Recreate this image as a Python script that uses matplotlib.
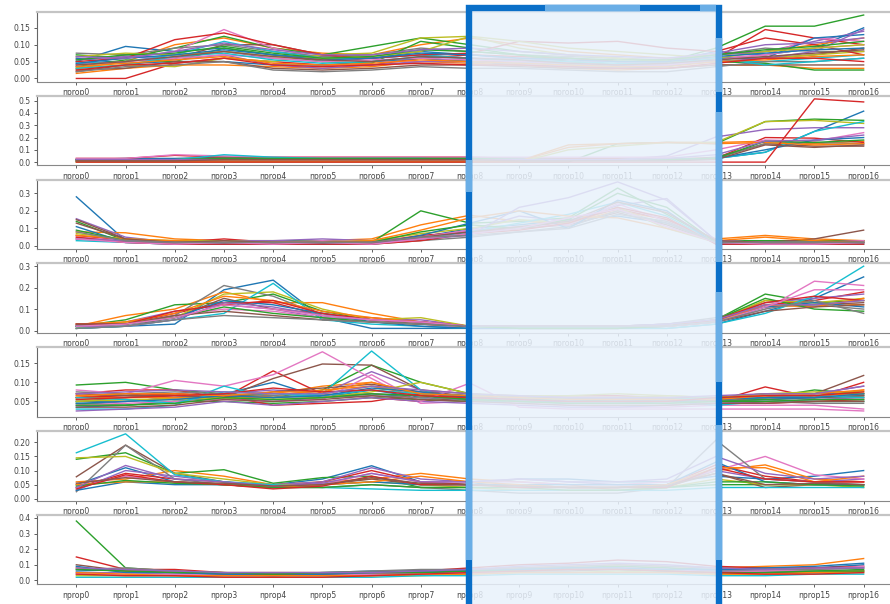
import matplotlib
matplotlib.use("Agg")
import matplotlib.pyplot as plt
from matplotlib.patches import Rectangle
from matplotlib.lines import Line2D

# x categories
labels = [f"nprop{i}" for i in range(17)]

# panel 1
p1 = [
    [0.05, 0.095, 0.08, 0.09, 0.07, 0.06, 0.06, 0.08, 0.07, 0.06, 0.06, 0.05, 0.05, 0.08, 0.07, 0.09, 0.15],
    [0.03, 0.05, 0.10, 0.12, 0.09, 0.075, 0.07, 0.10, 0.12, 0.10, 0.08, 0.07, 0.06, 0.07, 0.08, 0.10, 0.12],
    [0.07, 0.06, 0.09, 0.125, 0.09, 0.07, 0.095, 0.12, 0.10, 0.08, 0.07, 0.06, 0.05, 0.09, 0.155, 0.155, 0.188],
    [0.00, 0.00, 0.045, 0.06, 0.05, 0.04, 0.04, 0.06, 0.07, 0.065, 0.06, 0.05, 0.05, 0.06, 0.145, 0.12, 0.10],
    [0.04, 0.07, 0.06, 0.08, 0.06, 0.05, 0.06, 0.07, 0.06, 0.05, 0.045, 0.04, 0.05, 0.07, 0.08, 0.11, 0.14],
    [0.02, 0.04, 0.06, 0.10, 0.10, 0.07, 0.05, 0.06, 0.05, 0.05, 0.05, 0.04, 0.04, 0.06, 0.06, 0.07, 0.09],
    [0.06, 0.06, 0.08, 0.145, 0.09, 0.06, 0.05, 0.05, 0.06, 0.06, 0.05, 0.05, 0.04, 0.06, 0.07, 0.12, 0.11],
    [0.075, 0.07, 0.09, 0.10, 0.08, 0.065, 0.07, 0.09, 0.08, 0.07, 0.065, 0.06, 0.055, 0.07, 0.09, 0.08, 0.08],
    [0.03, 0.04, 0.035, 0.06, 0.05, 0.07, 0.075, 0.12, 0.125, 0.09, 0.07, 0.06, 0.05, 0.05, 0.06, 0.07, 0.08],
    [0.045, 0.05, 0.07, 0.11, 0.08, 0.06, 0.06, 0.07, 0.06, 0.05, 0.04, 0.035, 0.04, 0.05, 0.05, 0.06, 0.07],
    [0.06, 0.045, 0.05, 0.05, 0.04, 0.04, 0.05, 0.06, 0.05, 0.04, 0.035, 0.03, 0.035, 0.06, 0.06, 0.12, 0.13],
    [0.015, 0.03, 0.04, 0.04, 0.035, 0.03, 0.035, 0.05, 0.045, 0.04, 0.03, 0.025, 0.03, 0.04, 0.04, 0.03, 0.03],
    [0.035, 0.055, 0.05, 0.09, 0.07, 0.05, 0.045, 0.11, 0.09, 0.07, 0.05, 0.04, 0.04, 0.05, 0.045, 0.025, 0.025],
    [0.05, 0.06, 0.115, 0.135, 0.10, 0.07, 0.06, 0.07, 0.075, 0.11, 0.105, 0.11, 0.09, 0.08, 0.12, 0.10, 0.07],
    [0.055, 0.065, 0.055, 0.07, 0.04, 0.03, 0.04, 0.05, 0.05, 0.045, 0.04, 0.035, 0.04, 0.05, 0.06, 0.08, 0.145],
    [0.025, 0.03, 0.05, 0.05, 0.03, 0.025, 0.03, 0.04, 0.04, 0.035, 0.03, 0.03, 0.03, 0.04, 0.04, 0.04, 0.04],
    [0.04, 0.05, 0.06, 0.07, 0.06, 0.05, 0.055, 0.06, 0.055, 0.05, 0.045, 0.04, 0.04, 0.055, 0.07, 0.09, 0.10],
    [0.02, 0.035, 0.04, 0.05, 0.025, 0.02, 0.025, 0.035, 0.03, 0.03, 0.025, 0.02, 0.02, 0.035, 0.05, 0.05, 0.06],
    [0.065, 0.075, 0.07, 0.08, 0.065, 0.06, 0.065, 0.08, 0.125, 0.11, 0.09, 0.08, 0.07, 0.06, 0.08, 0.09, 0.10],
    [0.03, 0.04, 0.065, 0.075, 0.055, 0.045, 0.05, 0.065, 0.06, 0.055, 0.05, 0.045, 0.045, 0.06, 0.04, 0.05, 0.06],
    [0.045, 0.06, 0.07, 0.085, 0.07, 0.055, 0.06, 0.075, 0.07, 0.06, 0.055, 0.05, 0.05, 0.065, 0.075, 0.085, 0.09],
    [0.035, 0.045, 0.055, 0.065, 0.045, 0.04, 0.045, 0.055, 0.05, 0.045, 0.04, 0.035, 0.035, 0.05, 0.055, 0.065, 0.07],
    [0.055, 0.07, 0.075, 0.095, 0.075, 0.06, 0.065, 0.085, 0.08, 0.07, 0.06, 0.055, 0.055, 0.07, 0.085, 0.095, 0.11],
    [0.025, 0.04, 0.045, 0.06, 0.04, 0.035, 0.04, 0.045, 0.04, 0.04, 0.035, 0.03, 0.03, 0.045, 0.06, 0.06, 0.05],
    [0.065, 0.06, 0.08, 0.105, 0.085, 0.07, 0.07, 0.085, 0.09, 0.08, 0.07, 0.065, 0.06, 0.075, 0.10, 0.105, 0.12],
    [0.04, 0.05, 0.065, 0.08, 0.065, 0.055, 0.05, 0.065, 0.06, 0.055, 0.045, 0.04, 0.045, 0.055, 0.065, 0.075, 0.085],
]

# panel 2
p2 = [
    [0.02, 0.03, 0.03, 0.04, 0.03, 0.03, 0.03, 0.03, 0.03, 0.02, 0.02, 0.02, 0.02, 0.03, 0.08, 0.25, 0.415],
    [0.01, 0.01, 0.01, 0.01, 0.01, 0.01, 0.01, 0.01, 0.01, 0.01, 0.14, 0.15, 0.16, 0.16, 0.17, 0.15, 0.17],
    [0.005, 0.005, 0.01, 0.01, 0.01, 0.01, 0.01, 0.01, 0.01, 0.0, 0.0, 0.15, 0.16, 0.15, 0.33, 0.35, 0.34],
    [0.03, 0.03, 0.055, 0.04, 0.04, 0.04, 0.04, 0.04, 0.04, 0.03, 0.03, 0.03, 0.03, 0.03, 0.20, 0.195, 0.16],
    [0.02, 0.02, 0.02, 0.03, 0.02, 0.02, 0.02, 0.02, 0.02, 0.02, 0.02, 0.02, 0.05, 0.205, 0.265, 0.28, 0.28],
    [0.01, 0.01, 0.02, 0.04, 0.02, 0.02, 0.02, 0.02, 0.02, 0.02, 0.02, 0.02, 0.02, 0.04, 0.15, 0.13, 0.13],
    [0.03, 0.03, 0.06, 0.05, 0.04, 0.04, 0.04, 0.04, 0.04, 0.04, 0.04, 0.04, 0.04, 0.10, 0.18, 0.17, 0.24],
    [0.02, 0.02, 0.02, 0.03, 0.03, 0.03, 0.03, 0.03, 0.03, 0.03, 0.02, 0.02, 0.02, 0.03, 0.15, 0.16, 0.15],
    [0.0, 0.0, 0.0, 0.0, 0.0, 0.0, 0.0, 0.0, 0.0, 0.0, 0.10, 0.13, 0.16, 0.16, 0.33, 0.34, 0.315],
    [0.01, 0.01, 0.02, 0.06, 0.04, 0.03, 0.03, 0.03, 0.02, 0.02, 0.02, 0.02, 0.02, 0.03, 0.08, 0.25, 0.33],
    [0.02, 0.02, 0.02, 0.02, 0.02, 0.02, 0.02, 0.02, 0.02, 0.02, 0.02, 0.02, 0.02, 0.03, 0.10, 0.18, 0.20],
    [0.01, 0.01, 0.01, 0.01, 0.01, 0.01, 0.01, 0.01, 0.01, 0.01, 0.12, 0.15, 0.16, 0.15, 0.16, 0.14, 0.15],
    [0.02, 0.02, 0.02, 0.03, 0.03, 0.03, 0.03, 0.03, 0.03, 0.02, 0.02, 0.02, 0.02, 0.03, 0.17, 0.16, 0.18],
    [0.0, 0.0, 0.0, 0.0, 0.0, 0.0, 0.0, 0.0, 0.0, 0.0, 0.0, 0.0, 0.0, 0.0, 0.0, 0.515, 0.49],
    [0.02, 0.02, 0.02, 0.02, 0.02, 0.02, 0.02, 0.02, 0.02, 0.02, 0.02, 0.02, 0.03, 0.06, 0.17, 0.18, 0.22],
    [0.01, 0.01, 0.01, 0.02, 0.02, 0.02, 0.02, 0.02, 0.02, 0.01, 0.01, 0.01, 0.01, 0.02, 0.14, 0.12, 0.14],
]

# panel 3
p3 = [
    [0.28, 0.03, 0.02, 0.02, 0.02, 0.02, 0.02, 0.05, 0.10, 0.12, 0.15, 0.17, 0.13, 0.03, 0.02, 0.02, 0.02],
    [0.08, 0.075, 0.04, 0.03, 0.03, 0.03, 0.04, 0.12, 0.175, 0.14, 0.13, 0.20, 0.15, 0.04, 0.06, 0.04, 0.03],
    [0.14, 0.03, 0.03, 0.03, 0.03, 0.03, 0.02, 0.20, 0.13, 0.14, 0.16, 0.33, 0.18, 0.03, 0.03, 0.03, 0.03],
    [0.06, 0.03, 0.02, 0.04, 0.02, 0.02, 0.02, 0.06, 0.08, 0.10, 0.14, 0.21, 0.15, 0.02, 0.02, 0.02, 0.03],
    [0.155, 0.05, 0.02, 0.03, 0.03, 0.04, 0.03, 0.05, 0.09, 0.17, 0.14, 0.23, 0.27, 0.03, 0.02, 0.02, 0.02],
    [0.15, 0.04, 0.02, 0.02, 0.02, 0.02, 0.02, 0.04, 0.07, 0.10, 0.12, 0.19, 0.12, 0.02, 0.02, 0.04, 0.09],
    [0.05, 0.03, 0.02, 0.02, 0.02, 0.03, 0.02, 0.05, 0.09, 0.11, 0.12, 0.24, 0.14, 0.03, 0.02, 0.02, 0.03],
    [0.04, 0.02, 0.02, 0.02, 0.01, 0.01, 0.01, 0.03, 0.05, 0.08, 0.11, 0.20, 0.13, 0.02, 0.02, 0.02, 0.02],
    [0.07, 0.04, 0.03, 0.03, 0.02, 0.02, 0.03, 0.07, 0.10, 0.15, 0.13, 0.22, 0.10, 0.02, 0.02, 0.02, 0.02],
    [0.03, 0.02, 0.01, 0.01, 0.01, 0.01, 0.01, 0.04, 0.08, 0.13, 0.18, 0.25, 0.17, 0.02, 0.02, 0.02, 0.02],
    [0.11, 0.02, 0.01, 0.01, 0.01, 0.01, 0.01, 0.06, 0.13, 0.20, 0.10, 0.26, 0.20, 0.01, 0.01, 0.01, 0.01],
    [0.06, 0.04, 0.03, 0.02, 0.02, 0.02, 0.03, 0.09, 0.16, 0.20, 0.17, 0.16, 0.10, 0.03, 0.05, 0.03, 0.02],
    [0.09, 0.03, 0.02, 0.02, 0.02, 0.02, 0.02, 0.08, 0.12, 0.10, 0.15, 0.30, 0.22, 0.02, 0.02, 0.02, 0.02],
    [0.05, 0.02, 0.01, 0.01, 0.01, 0.01, 0.01, 0.03, 0.07, 0.09, 0.13, 0.22, 0.16, 0.01, 0.01, 0.01, 0.01],
    [0.04, 0.03, 0.02, 0.02, 0.02, 0.02, 0.02, 0.04, 0.06, 0.22, 0.275, 0.365, 0.26, 0.03, 0.02, 0.02, 0.02],
    [0.13, 0.04, 0.02, 0.03, 0.02, 0.02, 0.02, 0.05, 0.08, 0.11, 0.14, 0.25, 0.19, 0.03, 0.02, 0.02, 0.02],
    [0.04, 0.02, 0.01, 0.02, 0.01, 0.02, 0.01, 0.04, 0.07, 0.10, 0.16, 0.21, 0.11, 0.02, 0.01, 0.01, 0.02],
    [0.08, 0.03, 0.02, 0.02, 0.02, 0.02, 0.02, 0.05, 0.06, 0.08, 0.10, 0.18, 0.14, 0.02, 0.02, 0.02, 0.02],
]

# panel 4
p4 = [
    [0.01, 0.02, 0.03, 0.19, 0.235, 0.06, 0.01, 0.01, 0.01, 0.01, 0.01, 0.01, 0.01, 0.03, 0.09, 0.15, 0.25],
    [0.02, 0.07, 0.10, 0.18, 0.13, 0.13, 0.08, 0.04, 0.02, 0.01, 0.01, 0.01, 0.02, 0.04, 0.14, 0.13, 0.12],
    [0.02, 0.05, 0.12, 0.13, 0.17, 0.09, 0.05, 0.04, 0.02, 0.01, 0.01, 0.01, 0.02, 0.05, 0.17, 0.13, 0.14],
    [0.03, 0.03, 0.08, 0.13, 0.13, 0.07, 0.06, 0.04, 0.02, 0.02, 0.02, 0.02, 0.02, 0.04, 0.12, 0.14, 0.18],
    [0.02, 0.04, 0.09, 0.12, 0.10, 0.06, 0.05, 0.05, 0.02, 0.02, 0.02, 0.02, 0.03, 0.05, 0.13, 0.15, 0.17],
    [0.01, 0.02, 0.06, 0.15, 0.10, 0.08, 0.05, 0.03, 0.02, 0.02, 0.02, 0.02, 0.03, 0.05, 0.11, 0.12, 0.13],
    [0.02, 0.03, 0.07, 0.10, 0.09, 0.06, 0.04, 0.03, 0.01, 0.01, 0.01, 0.01, 0.02, 0.04, 0.10, 0.23, 0.21],
    [0.02, 0.03, 0.07, 0.21, 0.16, 0.07, 0.05, 0.04, 0.02, 0.02, 0.02, 0.02, 0.03, 0.06, 0.12, 0.12, 0.10],
    [0.01, 0.04, 0.06, 0.17, 0.18, 0.10, 0.05, 0.06, 0.02, 0.02, 0.02, 0.02, 0.02, 0.05, 0.14, 0.13, 0.15],
    [0.01, 0.02, 0.05, 0.08, 0.22, 0.05, 0.03, 0.02, 0.01, 0.01, 0.01, 0.01, 0.01, 0.03, 0.08, 0.16, 0.30],
    [0.02, 0.03, 0.06, 0.14, 0.12, 0.08, 0.04, 0.02, 0.01, 0.01, 0.01, 0.01, 0.02, 0.04, 0.11, 0.13, 0.11],
    [0.03, 0.04, 0.08, 0.16, 0.14, 0.09, 0.06, 0.04, 0.02, 0.02, 0.02, 0.02, 0.02, 0.04, 0.12, 0.11, 0.15],
    [0.02, 0.03, 0.06, 0.11, 0.08, 0.06, 0.04, 0.03, 0.02, 0.01, 0.01, 0.01, 0.02, 0.05, 0.15, 0.10, 0.09],
    [0.03, 0.03, 0.09, 0.12, 0.14, 0.08, 0.05, 0.04, 0.02, 0.02, 0.02, 0.02, 0.02, 0.05, 0.13, 0.16, 0.14],
    [0.02, 0.02, 0.05, 0.13, 0.11, 0.07, 0.05, 0.04, 0.02, 0.02, 0.02, 0.02, 0.03, 0.05, 0.12, 0.12, 0.14],
    [0.03, 0.03, 0.07, 0.09, 0.07, 0.05, 0.04, 0.03, 0.02, 0.02, 0.02, 0.02, 0.02, 0.04, 0.09, 0.11, 0.12],
    [0.02, 0.03, 0.06, 0.12, 0.10, 0.07, 0.05, 0.04, 0.02, 0.02, 0.02, 0.02, 0.02, 0.04, 0.11, 0.19, 0.19],
    [0.01, 0.02, 0.05, 0.07, 0.06, 0.05, 0.04, 0.03, 0.02, 0.02, 0.02, 0.02, 0.02, 0.04, 0.10, 0.14, 0.08],
]

# panel 5
p5 = [
    [0.05, 0.05, 0.06, 0.07, 0.10, 0.06, 0.07, 0.06, 0.06, 0.05, 0.05, 0.05, 0.05, 0.06, 0.06, 0.07, 0.07],
    [0.06, 0.06, 0.07, 0.06, 0.07, 0.09, 0.10, 0.07, 0.06, 0.06, 0.06, 0.06, 0.06, 0.05, 0.06, 0.06, 0.08],
    [0.093, 0.10, 0.08, 0.07, 0.06, 0.08, 0.145, 0.10, 0.07, 0.06, 0.06, 0.06, 0.06, 0.06, 0.06, 0.08, 0.07],
    [0.07, 0.08, 0.08, 0.06, 0.13, 0.07, 0.06, 0.05, 0.06, 0.065, 0.065, 0.065, 0.06, 0.05, 0.088, 0.06, 0.10],
    [0.04, 0.05, 0.06, 0.07, 0.08, 0.07, 0.128, 0.08, 0.06, 0.06, 0.05, 0.05, 0.05, 0.06, 0.07, 0.07, 0.09],
    [0.06, 0.07, 0.06, 0.06, 0.11, 0.148, 0.145, 0.08, 0.07, 0.06, 0.06, 0.06, 0.06, 0.06, 0.07, 0.07, 0.118],
    [0.08, 0.07, 0.105, 0.09, 0.12, 0.18, 0.11, 0.045, 0.05, 0.045, 0.04, 0.035, 0.035, 0.04, 0.04, 0.04, 0.03],
    [0.05, 0.06, 0.07, 0.065, 0.06, 0.065, 0.07, 0.065, 0.06, 0.06, 0.06, 0.055, 0.05, 0.05, 0.055, 0.06, 0.06],
    [0.055, 0.05, 0.06, 0.06, 0.06, 0.07, 0.09, 0.07, 0.065, 0.06, 0.06, 0.06, 0.065, 0.06, 0.065, 0.06, 0.065],
    [0.03, 0.03, 0.04, 0.09, 0.06, 0.07, 0.182, 0.08, 0.05, 0.05, 0.045, 0.045, 0.05, 0.04, 0.05, 0.05, 0.05],
    [0.035, 0.04, 0.05, 0.06, 0.05, 0.06, 0.08, 0.06, 0.055, 0.05, 0.05, 0.05, 0.05, 0.05, 0.055, 0.06, 0.065],
    [0.065, 0.06, 0.06, 0.055, 0.065, 0.08, 0.09, 0.065, 0.06, 0.06, 0.06, 0.06, 0.055, 0.06, 0.06, 0.065, 0.07],
    [0.045, 0.04, 0.05, 0.05, 0.045, 0.05, 0.06, 0.055, 0.05, 0.055, 0.055, 0.05, 0.05, 0.05, 0.055, 0.05, 0.05],
    [0.06, 0.065, 0.07, 0.065, 0.04, 0.045, 0.05, 0.07, 0.06, 0.065, 0.06, 0.06, 0.06, 0.05, 0.045, 0.05, 0.055],
    [0.025, 0.03, 0.035, 0.05, 0.04, 0.05, 0.06, 0.05, 0.045, 0.04, 0.035, 0.035, 0.04, 0.045, 0.05, 0.055, 0.06],
    [0.07, 0.065, 0.065, 0.06, 0.075, 0.085, 0.095, 0.075, 0.065, 0.06, 0.06, 0.06, 0.06, 0.055, 0.06, 0.06, 0.065],
    [0.04, 0.045, 0.05, 0.055, 0.05, 0.055, 0.12, 0.05, 0.098, 0.035, 0.03, 0.03, 0.03, 0.03, 0.03, 0.03, 0.025],
    [0.075, 0.07, 0.075, 0.07, 0.065, 0.06, 0.065, 0.06, 0.055, 0.05, 0.045, 0.045, 0.045, 0.05, 0.05, 0.045, 0.045],
    [0.05, 0.055, 0.055, 0.06, 0.055, 0.06, 0.075, 0.10, 0.07, 0.065, 0.065, 0.07, 0.065, 0.06, 0.07, 0.075, 0.075],
    [0.06, 0.055, 0.045, 0.075, 0.07, 0.065, 0.08, 0.07, 0.065, 0.06, 0.055, 0.055, 0.055, 0.06, 0.06, 0.065, 0.06],
    [0.045, 0.05, 0.055, 0.065, 0.06, 0.065, 0.085, 0.075, 0.06, 0.055, 0.05, 0.05, 0.05, 0.055, 0.06, 0.06, 0.07],
    [0.065, 0.07, 0.07, 0.065, 0.075, 0.075, 0.10, 0.07, 0.065, 0.06, 0.055, 0.055, 0.055, 0.055, 0.065, 0.07, 0.08],
    [0.04, 0.04, 0.045, 0.06, 0.055, 0.06, 0.07, 0.065, 0.055, 0.05, 0.045, 0.045, 0.045, 0.05, 0.05, 0.055, 0.055],
    [0.055, 0.06, 0.065, 0.07, 0.085, 0.075, 0.08, 0.065, 0.06, 0.055, 0.05, 0.05, 0.05, 0.06, 0.065, 0.065, 0.075],
    [0.07, 0.075, 0.08, 0.075, 0.07, 0.07, 0.09, 0.08, 0.07, 0.065, 0.06, 0.06, 0.06, 0.065, 0.07, 0.07, 0.09],
    [0.035, 0.035, 0.04, 0.055, 0.05, 0.055, 0.065, 0.055, 0.05, 0.045, 0.04, 0.04, 0.04, 0.045, 0.045, 0.05, 0.05],
]

# panel 6
p6 = [
    [0.05, 0.11, 0.06, 0.05, 0.05, 0.07, 0.117, 0.06, 0.05, 0.07, 0.07, 0.06, 0.06, 0.08, 0.07, 0.08, 0.10],
    [0.06, 0.07, 0.10, 0.08, 0.05, 0.06, 0.07, 0.09, 0.07, 0.06, 0.05, 0.03, 0.04, 0.10, 0.12, 0.07, 0.06],
    [0.14, 0.163, 0.09, 0.103, 0.055, 0.075, 0.08, 0.04, 0.04, 0.04, 0.04, 0.04, 0.04, 0.05, 0.05, 0.05, 0.05],
    [0.04, 0.09, 0.07, 0.06, 0.04, 0.06, 0.10, 0.06, 0.05, 0.05, 0.04, 0.04, 0.05, 0.12, 0.08, 0.06, 0.06],
    [0.03, 0.10, 0.08, 0.06, 0.05, 0.06, 0.11, 0.07, 0.06, 0.07, 0.06, 0.05, 0.05, 0.10, 0.07, 0.06, 0.07],
    [0.078, 0.19, 0.09, 0.06, 0.04, 0.05, 0.07, 0.05, 0.05, 0.05, 0.04, 0.04, 0.05, 0.09, 0.04, 0.05, 0.05],
    [0.04, 0.08, 0.06, 0.05, 0.04, 0.05, 0.09, 0.06, 0.06, 0.06, 0.05, 0.05, 0.06, 0.10, 0.15, 0.085, 0.07],
    [0.025, 0.19, 0.07, 0.05, 0.04, 0.04, 0.05, 0.04, 0.03, 0.02, 0.02, 0.02, 0.04, 0.208, 0.07, 0.06, 0.05],
    [0.145, 0.15, 0.09, 0.07, 0.05, 0.05, 0.06, 0.05, 0.04, 0.03, 0.03, 0.03, 0.04, 0.07, 0.05, 0.05, 0.04],
    [0.163, 0.23, 0.085, 0.06, 0.05, 0.04, 0.035, 0.03, 0.03, 0.03, 0.03, 0.03, 0.03, 0.04, 0.04, 0.04, 0.04],
    [0.03, 0.06, 0.05, 0.05, 0.04, 0.05, 0.06, 0.05, 0.05, 0.05, 0.05, 0.05, 0.05, 0.13, 0.06, 0.05, 0.05],
    [0.05, 0.06, 0.06, 0.05, 0.04, 0.05, 0.06, 0.08, 0.06, 0.05, 0.04, 0.04, 0.05, 0.11, 0.11, 0.06, 0.08],
    [0.045, 0.065, 0.055, 0.05, 0.04, 0.04, 0.05, 0.04, 0.04, 0.04, 0.03, 0.03, 0.04, 0.06, 0.06, 0.05, 0.045],
    [0.035, 0.085, 0.06, 0.05, 0.035, 0.045, 0.08, 0.05, 0.05, 0.04, 0.04, 0.04, 0.04, 0.11, 0.07, 0.06, 0.06],
    [0.04, 0.118, 0.07, 0.06, 0.045, 0.055, 0.09, 0.06, 0.06, 0.07, 0.06, 0.06, 0.07, 0.15, 0.09, 0.07, 0.08],
    [0.055, 0.075, 0.06, 0.055, 0.045, 0.05, 0.075, 0.055, 0.05, 0.045, 0.04, 0.04, 0.045, 0.09, 0.05, 0.055, 0.05],
]

# panel 7
p7 = [
    [0.06, 0.07, 0.05, 0.04, 0.04, 0.05, 0.06, 0.06, 0.07, 0.08, 0.08, 0.09, 0.08, 0.07, 0.07, 0.08, 0.10],
    [0.08, 0.06, 0.06, 0.05, 0.04, 0.04, 0.05, 0.06, 0.07, 0.08, 0.09, 0.10, 0.09, 0.08, 0.09, 0.10, 0.14],
    [0.38, 0.08, 0.06, 0.04, 0.04, 0.04, 0.04, 0.05, 0.06, 0.07, 0.08, 0.09, 0.08, 0.06, 0.06, 0.06, 0.07],
    [0.15, 0.07, 0.07, 0.05, 0.05, 0.05, 0.05, 0.06, 0.08, 0.10, 0.11, 0.13, 0.12, 0.09, 0.08, 0.08, 0.09],
    [0.05, 0.05, 0.04, 0.04, 0.03, 0.04, 0.05, 0.05, 0.06, 0.07, 0.07, 0.08, 0.07, 0.06, 0.06, 0.07, 0.08],
    [0.10, 0.06, 0.05, 0.04, 0.04, 0.04, 0.04, 0.05, 0.05, 0.06, 0.06, 0.07, 0.06, 0.05, 0.05, 0.05, 0.06],
    [0.04, 0.04, 0.04, 0.03, 0.03, 0.03, 0.04, 0.04, 0.05, 0.06, 0.07, 0.08, 0.07, 0.05, 0.06, 0.07, 0.09],
    [0.07, 0.08, 0.06, 0.05, 0.05, 0.05, 0.06, 0.07, 0.07, 0.08, 0.09, 0.10, 0.09, 0.08, 0.07, 0.07, 0.08],
    [0.03, 0.03, 0.03, 0.02, 0.02, 0.02, 0.03, 0.03, 0.04, 0.05, 0.05, 0.06, 0.05, 0.04, 0.04, 0.05, 0.05],
    [0.02, 0.02, 0.02, 0.02, 0.02, 0.02, 0.02, 0.03, 0.03, 0.04, 0.04, 0.04, 0.04, 0.03, 0.03, 0.04, 0.04],
    [0.09, 0.05, 0.05, 0.04, 0.03, 0.04, 0.05, 0.06, 0.06, 0.07, 0.08, 0.08, 0.07, 0.07, 0.08, 0.09, 0.11],
    [0.05, 0.04, 0.03, 0.03, 0.03, 0.03, 0.03, 0.04, 0.04, 0.05, 0.05, 0.05, 0.05, 0.04, 0.04, 0.05, 0.06],
    [0.07, 0.06, 0.05, 0.05, 0.04, 0.05, 0.05, 0.05, 0.06, 0.06, 0.07, 0.07, 0.06, 0.05, 0.05, 0.06, 0.06],
    [0.04, 0.03, 0.03, 0.02, 0.02, 0.02, 0.03, 0.04, 0.05, 0.06, 0.07, 0.07, 0.06, 0.05, 0.04, 0.04, 0.05],
    [0.08, 0.07, 0.06, 0.05, 0.05, 0.05, 0.05, 0.06, 0.07, 0.09, 0.10, 0.11, 0.10, 0.08, 0.07, 0.08, 0.08],
]

panels = [p1, p2, p3, p4, p5, p6, p7]
ylims = [(-0.009, 0.197), (-0.026, 0.54), (-0.018, 0.378), (-0.011, 0.313),
         (0.010, 0.192), (-0.006, 0.24), (-0.025, 0.42)]
yticks = [[0.0, 0.05, 0.10, 0.15], [0.0, 0.1, 0.2, 0.3, 0.4, 0.5], [0.0, 0.1, 0.2, 0.3],
          [0.0, 0.1, 0.2, 0.3], [0.05, 0.10, 0.15], [0.0, 0.05, 0.10, 0.15, 0.20],
          [0.0, 0.1, 0.2, 0.3, 0.4]]
yfmts = ["{:.2f}", "{:.1f}", "{:.1f}", "{:.1f}", "{:.2f}", "{:.2f}", "{:.1f}"]

W, H = 890, 604
fig = plt.figure(figsize=(W / 100, H / 100), dpi=100)

left_px, right_px = 37, 903
top0, pitch, height = 12, 83.8, 69.5

x = list(range(len(labels)))
for i, (lines, ylim, yt, fmt) in enumerate(zip(panels, ylims, yticks, yfmts)):
    top = top0 + i * pitch
    ax = fig.add_axes([left_px / W, 1 - (top + height) / H,
                       (right_px - left_px) / W, height / H])
    for row in lines:
        ax.plot(x, row, lw=1.0)
    ax.set_xlim(-0.8, 16.8)
    ax.set_ylim(*ylim)
    ax.set_xticks(x)
    ax.set_xticklabels(labels)
    ax.set_yticks(yt)
    ax.set_yticklabels([fmt.format(v) for v in yt])
    ax.tick_params(labelsize=5.5, length=2.5, width=0.6, colors="#444444", pad=2)
    ax.spines["top"].set_color("#c4c4c4")
    ax.spines["top"].set_linewidth(1.6)
    ax.spines["left"].set_color("#666666")
    ax.spines["left"].set_linewidth(0.8)
    ax.spines["bottom"].set_color("#888888")
    ax.spines["bottom"].set_linewidth(0.8)
    ax.spines["right"].set_visible(False)

# highlight box drawn over the middle columns
bx0, bx1, by0 = 469, 719, 8
box = Rectangle((bx0 / W, -0.05), (bx1 - bx0) / W, 1 - by0 / H + 0.05,
                transform=fig.transFigure, facecolor="#e8f1fb", alpha=0.86,
                edgecolor="none", zorder=10)
fig.patches.append(box)
frame = Rectangle((bx0 / W, -0.05), (bx1 - bx0) / W, 1 - by0 / H + 0.05,
                  transform=fig.transFigure, facecolor="none",
                  edgecolor="#0a6fc8", lw=4.6, zorder=11)
fig.patches.append(frame)

# lighter strokes along the frame
light = "#6aaee6"
strokes = [
    ((bx1, bx1), (38, 92)), ((bx1, bx1), (112, 262)), ((bx1, bx1), (292, 382)),
    ((bx1, bx1), (425, 560)), ((bx0, bx0), (160, 192)), ((bx0, bx0), (430, 560)),
    ((545, 640), (by0, by0)), ((700, 716), (by0, by0)),
]
for xs, ys in strokes:
    fig.add_artist(Line2D([v / W for v in xs], [1 - v / H for v in ys],
                          transform=fig.transFigure, color=light, lw=4.6,
                          solid_capstyle="butt", zorder=12))

fig.savefig("out.png", dpi=100)
